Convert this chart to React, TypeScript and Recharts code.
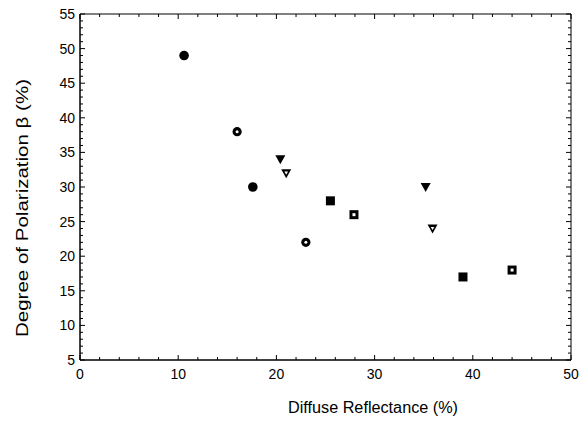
import React from 'react';
import { ScatterChart, Scatter, XAxis, YAxis, ReferenceArea } from 'recharts';

// marker groups
const filledCircles = [
  { x: 10.6, y: 49 },
  { x: 17.6, y: 30 },
];
const openCircles = [
  { x: 16, y: 38 },
  { x: 23, y: 22 },
];
const filledTriangles = [
  { x: 20.4, y: 34 },
  { x: 35.2, y: 30 },
];
const openTriangles = [
  { x: 21, y: 32 },
  { x: 35.9, y: 24 },
];
const filledSquares = [
  { x: 25.5, y: 28 },
  { x: 39, y: 17 },
];
const openSquares = [
  { x: 27.9, y: 26 },
  { x: 44, y: 18 },
];

const xTicks = [0, 2, 4, 6, 8, 10, 12, 14, 16, 18, 20, 22, 24, 26, 28, 30, 32, 34, 36, 38, 40, 42, 44, 46, 48, 50];
const xLabels = [0, 10, 20, 30, 40, 50];
const yTicks = Array.from({ length: 51 }, (_, i) => i + 5);
const yLabels = [5, 10, 15, 20, 25, 30, 35, 40, 45, 50, 55];

const W = 588;
const H = 428;
const margin = { top: 14, right: 17, bottom: 28, left: 20 };
const Y_AXIS_W = 60;
const X_AXIS_H = 40;
const plotTop = margin.top;
const plotRight = W - margin.right;

const FONT = '"Liberation Sans", Arial, sans-serif';

const XTick = (props: any) => {
  const { x, y, payload } = props;
  const major = xLabels.includes(payload.value);
  const len = major ? 5 : 3;
  return (
    <g>
      <line x1={x} x2={x} y1={y} y2={y - len} stroke="#000" strokeWidth={1} />
      <line x1={x} x2={x} y1={plotTop} y2={plotTop + len} stroke="#000" strokeWidth={1} />
      {major && (
        <text x={x} y={y + 19} textAnchor="middle" fontSize={14} fontFamily={FONT} fill="#000">
          {payload.value}
        </text>
      )}
    </g>
  );
};

const YTick = (props: any) => {
  const { x, y, payload } = props;
  const major = yLabels.includes(payload.value);
  const len = major ? 5 : 3;
  return (
    <g>
      <line x1={x} x2={x + len} y1={y} y2={y} stroke="#000" strokeWidth={1} />
      <line x1={plotRight} x2={plotRight - len} y1={y} y2={y} stroke="#000" strokeWidth={1} />
      {major && (
        <text x={x - 5} y={y + 5} textAnchor="end" fontSize={14} fontFamily={FONT} fill="#000">
          {payload.value}
        </text>
      )}
    </g>
  );
};

const FilledCircle = ({ cx, cy }: any) => <circle cx={cx} cy={cy} r={4.8} fill="#000" />;
const OpenCircle = ({ cx, cy }: any) => (
  <g>
    <circle cx={cx} cy={cy} r={4.6} fill="#000" />
    <circle cx={cx} cy={cy} r={1.5} fill="#fff" />
  </g>
);
const FilledTriangle = ({ cx, cy }: any) => (
  <polygon points={`${cx - 5},${cy - 4} ${cx + 5},${cy - 4} ${cx},${cy + 5}`} fill="#000" />
);
const OpenTriangle = ({ cx, cy }: any) => (
  <g>
    <polygon points={`${cx - 5},${cy - 4} ${cx + 5},${cy - 4} ${cx},${cy + 5}`} fill="#000" />
    <polygon points={`${cx - 1.8},${cy - 1.6} ${cx + 1.8},${cy - 1.6} ${cx},${cy + 1.6}`} fill="#fff" />
  </g>
);
const FilledSquare = ({ cx, cy }: any) => <rect x={cx - 4.5} y={cy - 4.5} width={9} height={9} fill="#000" />;
const OpenSquare = ({ cx, cy }: any) => (
  <g>
    <rect x={cx - 4.5} y={cy - 4.5} width={9} height={9} fill="#000" />
    <rect x={cx - 1.5} y={cy - 1.5} width={3} height={3} fill="#fff" />
  </g>
);

export default function App() {
  return (
    <div style={{ position: 'absolute', left: 0, top: 0, width: W, height: H, background: '#fff' }}>
      <ScatterChart width={W} height={H} margin={margin}>
        <XAxis
          type="number"
          dataKey="x"
          domain={[0, 50]}
          ticks={xTicks}
          interval={0}
          allowDataOverflow
          height={X_AXIS_H}
          tickSize={0}
          tickMargin={0}
          tick={<XTick />}
          axisLine={{ stroke: '#000', strokeWidth: 1 }}
          tickLine={false}
        />
        <YAxis
          type="number"
          dataKey="y"
          domain={[5, 55]}
          ticks={yTicks}
          interval={0}
          allowDataOverflow
          width={Y_AXIS_W}
          tickSize={0}
          tickMargin={0}
          tick={<YTick />}
          axisLine={{ stroke: '#000', strokeWidth: 1 }}
          tickLine={false}
        />
        <ReferenceArea x1={0} x2={50} y1={5} y2={55} fill="none" stroke="#000" strokeWidth={1} fillOpacity={0} />
        <Scatter data={filledCircles} shape={<FilledCircle />} isAnimationActive={false} />
        <Scatter data={openCircles} shape={<OpenCircle />} isAnimationActive={false} />
        <Scatter data={filledTriangles} shape={<FilledTriangle />} isAnimationActive={false} />
        <Scatter data={openTriangles} shape={<OpenTriangle />} isAnimationActive={false} />
        <Scatter data={filledSquares} shape={<FilledSquare />} isAnimationActive={false} />
        <Scatter data={openSquares} shape={<OpenSquare />} isAnimationActive={false} />
        <text
          x={22}
          y={208}
          transform="rotate(-90 22 208)"
          textAnchor="middle"
          dominantBaseline="central"
          fontSize={16}
          textLength={258}
          lengthAdjust="spacingAndGlyphs"
          fontFamily={FONT}
          fill="#000"
        >
          Degree of Polarization β (%)
        </text>
        <text
          x={373}
          y={407}
          textAnchor="middle"
          dominantBaseline="central"
          fontSize={16}
          textLength={170}
          lengthAdjust="spacingAndGlyphs"
          fontFamily={FONT}
          fill="#000"
        >
          Diffuse Reflectance (%)
        </text>
      </ScatterChart>
    </div>
  );
}
